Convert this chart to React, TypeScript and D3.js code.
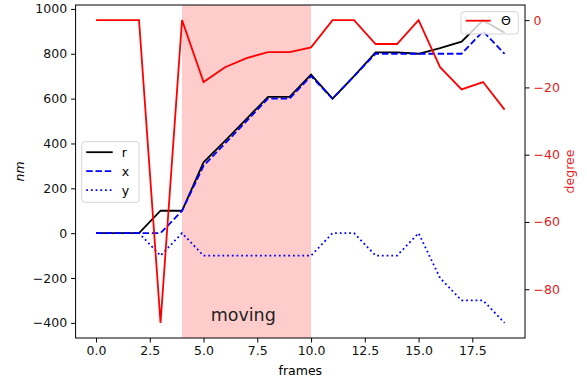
import React, { useEffect, useRef } from "react";
import * as d3 from "d3";

// frames 0..19
const frames = d3.range(0, 20);
const rVals = [0, 0, 0, 100, 100, 316, 412, 510, 608, 608, 707, 600, 700, 806, 806, 800, 825, 854, 949, 894];
const xVals = [0, 0, 0, 0, 100, 300, 400, 500, 600, 600, 700, 600, 700, 800, 800, 800, 800, 800, 900, 800];
const yVals = [0, 0, 0, -100, 0, -100, -100, -100, -100, -100, -100, 0, 0, -100, -100, 0, -200, -300, -300, -400];
const thetaVals = [0, 0, 0, -90, 0, -18.4, -14.0, -11.3, -9.5, -9.5, -8.1, 0, 0, -7.1, -7.1, 0, -14.0, -20.6, -18.4, -26.6];

const xTicks = [0, 2.5, 5, 7.5, 10, 12.5, 15, 17.5];
const leftTicks = [-400, -200, 0, 200, 400, 600, 800, 1000];
const rightTicks = [0, -20, -40, -60, -80];
const movingSpan = [4, 10];

const W = 587;
const H = 381;
const FONT = "DejaVu Sans, sans-serif";
const fmt = (v: number) => (v < 0 ? "\u2212" + Math.abs(v) : String(v));

const App = () => {
  const svgRef = useRef<SVGSVGElement>(null);

  useEffect(() => {
    const svg = d3.select(svgRef.current);
    svg.selectAll("*").remove();

    const left = 75.6, right = 525, top = 5, bottom = 338;

    const x = d3.scaleLinear().domain([-0.95, 19.95]).range([left, right]);
    const yL = d3.scaleLinear().domain([-467.5, 1017.5]).range([bottom, top]);
    const yR = d3.scaleLinear().domain([-94.5, 4.5]).range([bottom, top]);

    svg.append("rect").attr("width", W).attr("height", H).attr("fill", "white");

    // shaded span
    svg
      .append("rect")
      .attr("x", x(movingSpan[0]))
      .attr("y", top)
      .attr("width", x(movingSpan[1]) - x(movingSpan[0]))
      .attr("height", bottom - top)
      .attr("fill", "#ffcccc");

    svg
      .append("text")
      .attr("x", x(5.33))
      .attr("y", yL(-392))
      .attr("font-family", FONT)
      .attr("font-size", 17.5)
      .attr("fill", "#222")
      .text("moving");

    const lineL = (vals: number[]) =>
      d3
        .line<number>()
        .x((d, i) => x(frames[i]))
        .y((d) => yL(d))(vals);

    svg.append("path").attr("d", lineL(rVals)).attr("fill", "none").attr("stroke", "black").attr("stroke-width", 1.8);
    svg
      .append("path")
      .attr("d", lineL(xVals))
      .attr("fill", "none")
      .attr("stroke", "blue")
      .attr("stroke-width", 1.8)
      .attr("stroke-dasharray", "6.5,2.8");
    svg
      .append("path")
      .attr("d", lineL(yVals))
      .attr("fill", "none")
      .attr("stroke", "blue")
      .attr("stroke-width", 1.8)
      .attr("stroke-dasharray", "1.8,2.9");

    // left legend
    const lg = svg.append("g").attr("transform", "translate(81.7,141.7)");
    lg.append("rect")
      .attr("width", 57.3)
      .attr("height", 60.6)
      .attr("rx", 3)
      .attr("fill", "white")
      .attr("fill-opacity", 0.8)
      .attr("stroke", "#d6d6d6");
    const entries = [
      { label: "r", dash: null },
      { label: "x", dash: "6.5,2.8" },
      { label: "y", dash: "1.8,2.9" },
    ];
    entries.forEach((e, i) => {
      const yy = 10.5 + i * 19;
      lg.append("line")
        .attr("x1", 4.5)
        .attr("x2", 31)
        .attr("y1", yy)
        .attr("y2", yy)
        .attr("stroke", i === 0 ? "black" : "blue")
        .attr("stroke-width", 1.8)
        .attr("stroke-dasharray", e.dash);
      lg.append("text")
        .attr("x", 40)
        .attr("y", yy + 4.5)
        .attr("font-family", FONT)
        .attr("font-size", 12.5)
        .text(e.label);
    });

    // theta on right axis
    svg
      .append("path")
      .attr(
        "d",
        d3
          .line<number>()
          .x((d, i) => x(frames[i]))
          .y((d) => yR(d))(thetaVals)
      )
      .attr("fill", "none")
      .attr("stroke", "red")
      .attr("stroke-width", 1.8);

    // right legend
    const rg = svg.append("g").attr("transform", "translate(461,11.7)");
    rg.append("rect")
      .attr("width", 57.3)
      .attr("height", 22.3)
      .attr("rx", 3)
      .attr("fill", "white")
      .attr("fill-opacity", 0.8)
      .attr("stroke", "#d6d6d6");
    rg.append("line").attr("x1", 4.7).attr("x2", 29.7).attr("y1", 9).attr("y2", 9).attr("stroke", "red").attr("stroke-width", 1.8);
    rg.append("text").attr("x", 40).attr("y", 13.5).attr("font-family", FONT).attr("font-size", 12.5).text("\u0398");

    // spines
    svg
      .append("rect")
      .attr("x", left)
      .attr("y", top)
      .attr("width", right - left)
      .attr("height", bottom - top)
      .attr("fill", "none")
      .attr("stroke", "black")
      .attr("stroke-width", 1);

    // axes
    const xAxis = d3.axisBottom(x).tickValues(xTicks).tickSize(4.5).tickPadding(4).tickFormat((d) => d3.format(".1f")(d as number));
    const gx = svg.append("g").attr("transform", `translate(0,${bottom})`).call(xAxis);
    const yAxisL = d3.axisLeft(yL).tickValues(leftTicks).tickSize(4.5).tickPadding(4).tickFormat((d) => fmt(d as number));
    const gyl = svg.append("g").attr("transform", `translate(${left},0)`).call(yAxisL);
    const yAxisR = d3.axisRight(yR).tickValues(rightTicks).tickSize(4.5).tickPadding(4).tickFormat((d) => fmt(d as number));
    const gyr = svg.append("g").attr("transform", `translate(${right},0)`).call(yAxisR);

    [gx, gyl, gyr].forEach((g) => {
      g.select(".domain").remove();
      g.selectAll("text").attr("font-family", FONT).attr("font-size", 12.5).attr("fill", "#111");
      g.selectAll("line").attr("stroke", "black");
    });
    gyr.selectAll("text").attr("fill", "#e41a1c");

    svg
      .append("text")
      .attr("x", (left + right) / 2)
      .attr("y", 375)
      .attr("text-anchor", "middle")
      .attr("font-family", FONT)
      .attr("font-size", 12.5)
      .text("frames");

    svg
      .append("text")
      .attr("transform", `translate(24,${(top + bottom) / 2}) rotate(-90)`)
      .attr("text-anchor", "middle")
      .attr("font-family", FONT)
      .attr("font-size", 12.5)
      .attr("font-style", "italic")
      .text("nm");

    svg
      .append("text")
      .attr("transform", `translate(574,${(top + bottom) / 2}) rotate(-90)`)
      .attr("text-anchor", "middle")
      .attr("font-family", FONT)
      .attr("font-size", 12.5)
      .attr("fill", "#e41a1c")
      .text("degree");
  }, []);

  return (
    <div style={{ position: "fixed", left: 0, top: 0 }}>
      <svg ref={svgRef} width={W} height={H} style={{ display: "block" }}></svg>
    </div>
  );
};

export default App;
